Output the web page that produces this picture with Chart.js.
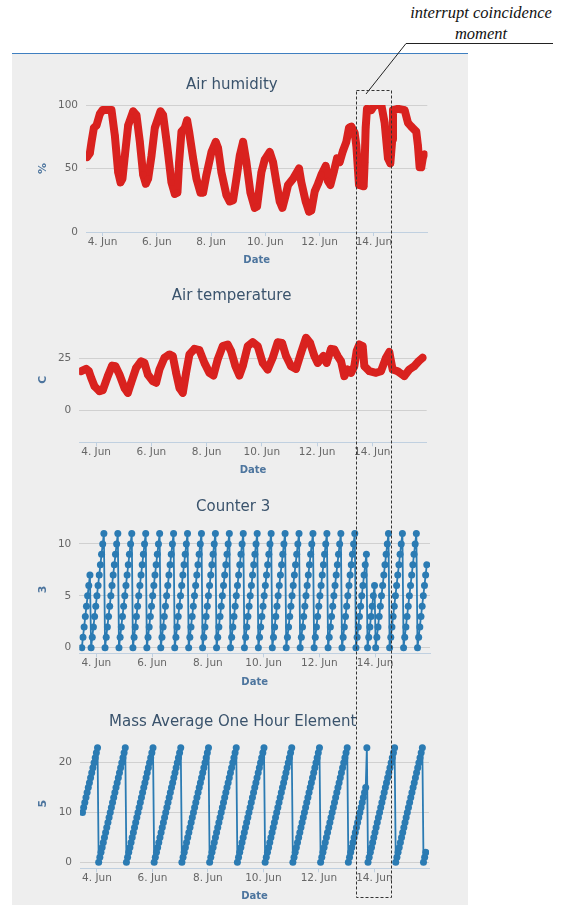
<!DOCTYPE html>
<html>
<head>
<meta charset="utf-8">
<script src="https://cdn.jsdelivr.net/npm/chart.js@4.4.1/dist/chart.umd.min.js"></script>
<style>
  body { margin: 0; background: #fff; width: 571px; height: 905px; position: relative; overflow: hidden; }
  #panel { position: absolute; left: 12px; top: 53px; width: 456px; height: 852px; background: #eeeeee; border-top: 1px solid #3f7fc0; }
  canvas { position: absolute; left: 12px; }
  #note { position: absolute; left: 381px; top: 3px; width: 200px; text-align: center; font: italic 16.5px "Liberation Serif", serif; line-height: 20.5px; color: #111; }
  svg { position: absolute; left: 0; top: 0; }
</style>
</head>
<body>
<div id="panel"></div>
<canvas id="humidity" width="434" height="214" style="top:58px"></canvas>
<canvas id="temperature" width="434" height="210" style="top:272px"></canvas>
<canvas id="counter" width="434" height="212" style="top:482px"></canvas>
<canvas id="mass" width="434" height="211" style="top:694px"></canvas>
<div id="note">interrupt coincidence<br>moment</div>
<svg width="571" height="905">
  <line x1="406" y1="43.5" x2="553" y2="43.5" stroke="#222" stroke-width="1"/>
  <line x1="406" y1="43.5" x2="366" y2="94" stroke="#222" stroke-width="1"/>
  <rect x="356.5" y="90.5" width="35" height="807" fill="none" stroke="#333" stroke-width="1" stroke-dasharray="3,2"/>
</svg>
<script>
// x axis is in days of June (4 = 4. Jun 00:00)
const xTicks = [4, 6, 8, 10, 12, 14];
const xMin = 3.39, xMax = 15.97;

// Air humidity, %
const humidityDays = [
  3.434, 3.532, 3.594, 3.680, 3.778, 3.901, 4.000, 4.330, 4.453, 4.576,
  4.662, 4.735, 4.821, 4.944, 5.128, 5.251, 5.374, 5.497, 5.595, 5.681,
  5.804, 5.926, 6.135, 6.233, 6.381, 6.540, 6.663, 6.761, 6.822, 6.909,
  7.031, 7.117, 7.191, 7.338, 7.461, 7.608, 7.707, 7.829, 8.014, 8.173,
  8.259, 8.382, 8.566, 8.689, 8.811, 8.934, 9.057, 9.180, 9.303, 9.450,
  9.610, 9.695, 9.855, 9.978, 10.162, 10.285, 10.408, 10.530, 10.629, 10.751,
  10.837, 11.021, 11.242, 11.328, 11.488, 11.611, 11.697, 11.820, 11.942, 12.065,
  12.225, 12.310, 12.397, 12.519, 12.642, 12.740, 12.863, 12.986, 13.084, 13.170,
  13.293, 13.354, 13.452, 13.624, 13.661, 13.698, 13.747, 13.907, 14.029, 14.275,
  14.398, 14.520, 14.607, 14.680, 14.705, 14.889, 15.134, 15.257, 15.380, 15.564,
  15.625, 15.687, 15.748, 15.810, 15.871
];
const humidityValues = [
  59, 62, 71, 82, 84, 93, 96, 96, 76, 47,
  39, 42, 60, 84, 95, 92, 71, 45, 38, 42,
  60, 82, 95, 92, 68, 39, 30, 31, 55, 79,
  82, 88, 79, 58, 42, 31, 31, 45, 63, 71,
  66, 47, 29, 24, 25, 42, 60, 71, 55, 31,
  19, 20, 47, 57, 63, 55, 39, 24, 19, 29,
  37, 42, 50, 39, 24, 16, 17, 32, 38, 45,
  52, 40, 37, 47, 58, 55, 64, 71, 82, 83,
  78, 68, 37, 36, 55, 82, 97, 96, 100, 100,
  86, 58, 54, 73, 96, 97, 96, 86, 83, 79,
  68, 51, 51, 59, 61
];

// Air temperature, C
const temperatureDays = [
  3.457, 3.638, 3.735, 3.819, 3.940, 4.121, 4.241, 4.422, 4.579, 4.700,
  4.844, 5.025, 5.146, 5.267, 5.448, 5.629, 5.749, 5.870, 6.051, 6.172,
  6.292, 6.473, 6.654, 6.775, 6.895, 7.016, 7.137, 7.257, 7.378, 7.559,
  7.740, 7.921, 8.102, 8.247, 8.403, 8.584, 8.765, 8.886, 9.043, 9.188,
  9.308, 9.489, 9.670, 9.851, 10.032, 10.213, 10.394, 10.575, 10.732, 10.877,
  11.058, 11.239, 11.420, 11.600, 11.745, 11.902, 12.023, 12.228, 12.349, 12.505,
  12.626, 12.747, 12.867, 12.988, 13.109, 13.229, 13.350, 13.434, 13.531, 13.652,
  13.712, 13.893, 14.134, 14.315, 14.496, 14.616, 14.677, 14.737, 14.918, 15.159,
  15.340, 15.521, 15.678, 15.823
];
const temperatureValues = [
  18.8, 19.9, 18.8, 15.6, 11.5, 9.1, 9.6, 16.4, 21.5, 21.2,
  17.2, 10.7, 8.3, 13.2, 20.4, 23.6, 22.8, 17.2, 14.0, 13.2,
  19.6, 25.3, 26.9, 26.1, 18.0, 10.7, 8.3, 18.0, 26.9, 29.6,
  29.0, 22.8, 18.0, 16.7, 24.5, 30.9, 31.7, 28.5, 21.2, 16.7,
  21.2, 30.9, 32.8, 30.9, 22.8, 19.6, 25.3, 32.8, 32.5, 26.1,
  21.2, 19.9, 27.7, 34.9, 32.5, 26.1, 22.8, 26.1, 22.8, 29.6,
  29.3, 26.1, 23.6, 16.4, 19.6, 18.0, 21.2, 28.5, 31.7, 30.9,
  21.2, 18.8, 18.0, 18.8, 25.3, 28.1, 23.6, 19.6, 18.8, 16.4,
  19.6, 21.2, 23.6, 25.3
];

// hourly samples for Counter 3 and Mass Average One Hour Element
const sampleStart = 3.48;
const sampleStep = 1 / 24;

const counterValues = [
  0,1,2,3,4,5,6,7,
  0,1,2,3,4,5,6,7,8,9,10,11,
  0,1,2,3,4,5,6,7,8,9,10,11,
  0,1,2,3,4,5,6,7,8,9,10,11,
  0,1,2,3,4,5,6,7,8,9,10,11,
  0,1,2,3,4,5,6,7,8,9,10,11,
  0,1,2,3,4,5,6,7,8,9,10,11,
  0,1,2,3,4,5,6,7,8,9,10,11,
  0,1,2,3,4,5,6,7,8,9,10,11,
  0,1,2,3,4,5,6,7,8,9,10,11,
  0,1,2,3,4,5,6,7,8,9,10,11,
  0,1,2,3,4,5,6,7,8,9,10,11,
  0,1,2,3,4,5,6,7,8,9,10,11,
  0,1,2,3,4,5,6,7,8,9,10,11,
  0,1,2,3,4,5,6,7,8,9,10,11,
  0,1,2,3,4,5,6,7,8,9,10,11,
  0,1,2,3,4,5,6,7,8,9,10,11,
  0,1,2,3,4,5,6,7,8,9,10,11,
  0,1,2,3,4,5,6,7,8,9,10,11,
  0,1,2,3,4,5,6,7,8,9,10,11,
  0,1,2,3,4,5,6,7,8,9,
  0,1,2,3,4,5,6,
  0,1,2,3,4,5,6,7,8,9,10,11,
  0,1,2,3,4,5,6,7,8,9,10,11,
  0,1,2,3,4,5,6,7,8,9,10,11,
  0,1,2,3,4,5,6,7,8
];

const massValues = [
  10,11,12,13,14,15,16,17,18,19,20,21,22,23,
  0,1,2,3,4,5,6,7,8,9,10,11,12,13,14,15,16,17,18,19,20,21,22,23,
  0,1,2,3,4,5,6,7,8,9,10,11,12,13,14,15,16,17,18,19,20,21,22,23,
  0,1,2,3,4,5,6,7,8,9,10,11,12,13,14,15,16,17,18,19,20,21,22,23,
  0,1,2,3,4,5,6,7,8,9,10,11,12,13,14,15,16,17,18,19,20,21,22,23,
  0,1,2,3,4,5,6,7,8,9,10,11,12,13,14,15,16,17,18,19,20,21,22,23,
  0,1,2,3,4,5,6,7,8,9,10,11,12,13,14,15,16,17,18,19,20,21,22,23,
  0,1,2,3,4,5,6,7,8,9,10,11,12,13,14,15,16,17,18,19,20,21,22,23,
  0,1,2,3,4,5,6,7,8,9,10,11,12,13,14,15,16,17,18,19,20,21,22,23,
  0,1,2,3,4,5,6,7,8,9,10,11,12,13,14,15,16,17,18,19,20,21,22,23,
  0,1,2,3,4,5,6,7,8,9,10,11,12,13,14,15,
  23,
  0,1,2,3,4,5,6,7,8,9,10,11,12,13,14,15,16,17,18,19,20,21,22,23,
  0,1,2,3,4,5,6,7,8,9,10,11,12,13,14,15,16,17,18,19,20,21,22,23,
  0,1,2
];

const humidityTicks = [0, 50, 100];
const temperatureTicks = [0, 25];
const counterTicks = [0, 5, 10];
const massTicks = [0, 10, 20];

const red = '#d9221f';
const blue = '#2b7bb3';
const font = 'DejaVu Sans';

function pairs(days, values) {
  return values.map((v, i) => ({ x: days[i], y: v }));
}
function hourly(values) {
  return values.map((v, i) => ({ x: sampleStart + i * sampleStep, y: v }));
}

function drawChart(id, title, axisTitle, points, yTicks, look) {
  new Chart(document.getElementById(id), {
    type: 'line',
    data: {
      datasets: [{
        data: points,
        borderColor: look.color,
        backgroundColor: look.color,
        pointBackgroundColor: look.color,
        borderWidth: look.lineWidth,
        pointRadius: look.radius,
        pointBorderWidth: 0,
        borderJoinStyle: 'round',
        borderCapStyle: 'round'
      }]
    },
    options: {
      responsive: false,
      animation: false,
      events: [],
      layout: { padding: { left: 24.4, right: look.padRight, top: 0, bottom: look.padBottom } },
      plugins: {
        legend: { display: false },
        tooltip: { enabled: false },
        title: {
          display: true,
          text: title,
          color: '#3a536c',
          font: { family: font, size: 15, weight: 'normal' },
          padding: { top: look.titleTop, bottom: look.titleBottom }
        }
      },
      scales: {
        x: {
          type: 'linear',
          min: xMin,
          max: xMax,
          afterBuildTicks: (axis) => { axis.ticks = xTicks.map(v => ({ value: v })); },
          afterFit: (axis) => { axis.height = look.xHeight; },
          grid: { drawOnChartArea: false, drawTicks: true, tickLength: 4, color: '#c0d0e0', tickColor: '#c0d0e0' },
          border: { color: '#c0d0e0', width: 1 },
          ticks: {
            padding: 0, maxRotation: 0, autoSkip: false,
            color: '#666', font: { family: font, size: 10.5 },
            callback: (v) => v + '. Jun'
          },
          title: { display: true, text: 'Date', color: '#4d759e', padding: 0, font: { family: font, size: 10, weight: 'bold' } }
        },
        y: {
          min: look.yMin,
          max: look.yMax,
          afterBuildTicks: (axis) => { axis.ticks = yTicks.map(v => ({ value: v })); },
          afterFit: (axis) => { axis.width = look.yWidth; },
          grid: { color: '#d0d0d0', lineWidth: 1, drawTicks: false },
          border: { display: false },
          ticks: { padding: 8, color: '#666', font: { family: font, size: 10.5 } },
          title: { display: true, text: axisTitle, color: '#4d759e', padding: 0, font: { family: font, size: 11, weight: 'bold' } }
        }
      }
    }
  });
}

const redLook = { color: red, lineWidth: 8, radius: 3.5 };
const blueLook = { color: blue, lineWidth: 1.8, radius: 3.5 };

drawChart('humidity', 'Air humidity', '%', pairs(humidityDays, humidityValues), humidityTicks,
  Object.assign({ titleTop: 18, titleBottom: 11, yWidth: 49.6, xHeight: 34, padRight: 18.7, padBottom: 6, yMin: 0, yMax: 100 }, redLook));
drawChart('temperature', 'Air temperature', 'C', pairs(temperatureDays, temperatureValues), temperatureTicks,
  Object.assign({ titleTop: 15, titleBottom: 12, yWidth: 42.9, xHeight: 34.4, padRight: 19.3, padBottom: 5.3, yMin: -15.6, yMax: 45 }, redLook));
drawChart('counter', 'Counter 3', '3', hourly(counterValues), counterTicks,
  Object.assign({ titleTop: 16, titleBottom: 9.3, yWidth: 42.9, xHeight: 35, padRight: 16, padBottom: 5.7, yMin: -0.54, yMax: 11.8 }, blueLook));
drawChart('mass', 'Mass Average One Hour Element', '5', hourly(massValues), massTicks,
  Object.assign({ titleTop: 18.7, titleBottom: 8.1, yWidth: 43.6, xHeight: 34.4, padRight: 17, padBottom: 2.3, yMin: -1.2, yMax: 24.8 }, blueLook));
</script>
</body>
</html>
